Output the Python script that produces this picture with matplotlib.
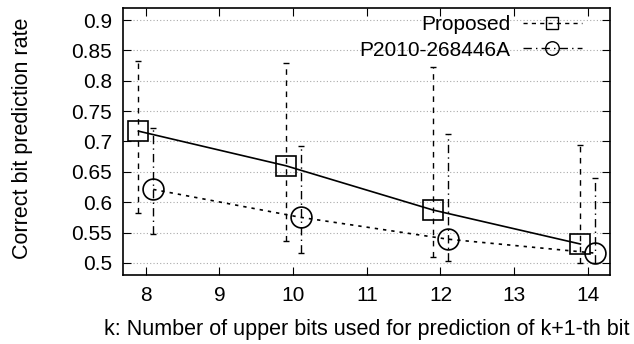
import matplotlib
matplotlib.use('Agg')
import matplotlib.pyplot as plt
from matplotlib.lines import Line2D

plt.rcParams['font.family'] = ['Liberation Sans', 'DejaVu Sans']

k = [8, 10, 12, 14]

# Proposed
prop_mean = [0.717, 0.660, 0.587, 0.531]
prop_low = [0.582, 0.536, 0.509, 0.500]
prop_high = [0.832, 0.829, 0.822, 0.694]

# P2010-268446A
prev_mean = [0.621, 0.575, 0.539, 0.516]
prev_low = [0.548, 0.516, 0.503, 0.500]
prev_high = [0.722, 0.693, 0.713, 0.640]

yticks = [0.5, 0.55, 0.6, 0.65, 0.7, 0.75, 0.8, 0.85, 0.9]
ytick_labels = ['0.5', '0.55', '0.6', '0.65', '0.7', '0.75', '0.8', '0.85', '0.9']

fig = plt.figure(figsize=(6.34, 3.44), dpi=100)
ax = fig.add_axes([0.194, 0.2006, 0.768, 0.7764])

xp = [x - 0.1 for x in k]
xq = [x + 0.1 for x in k]

# error bars
ep = ax.errorbar(xp, prop_mean,
                 yerr=[[m - l for m, l in zip(prop_mean, prop_low)],
                       [h - m for m, h in zip(prop_mean, prop_high)]],
                 fmt='none', ecolor='black', elinewidth=1.0, capsize=2.5)
ep[2][0].set_linestyle((0, (4, 4)))
eq = ax.errorbar(xq, prev_mean,
                 yerr=[[m - l for m, l in zip(prev_mean, prev_low)],
                       [h - m for m, h in zip(prev_mean, prev_high)]],
                 fmt='none', ecolor='black', elinewidth=1.0, capsize=2.5)
eq[2][0].set_linestyle((0, (6, 3, 1, 3)))

ax.plot(xp, prop_mean, color='black', lw=1.2, ls='-')
ax.plot(xp, prop_mean, ls='none', marker='s', ms=14, mfc='none', mec='black', mew=1.2)
ax.plot(xq, prev_mean, color='black', lw=1.2, ls=(0, (2, 3)))
ax.plot(xq, prev_mean, ls='none', marker='o', ms=15, mfc='none', mec='black', mew=1.2)

ax.set_xlim(7.69, 14.3)
ax.set_ylim(0.48, 0.92)
ax.set_xticks(range(8, 15))
ax.set_yticks(yticks)
ax.set_yticklabels(ytick_labels)
ax.tick_params(direction='in', top=True, right=True, labelsize=15, length=6, pad=8)
ax.yaxis.grid(True, color='#aaaaaa', ls=(0, (1, 2)), lw=0.8)
for s in ax.spines.values():
    s.set_linewidth(1.2)

ax.set_ylabel('Correct bit prediction rate', fontsize=15.5)
ax.yaxis.set_label_coords(-0.185, 0.51)
ax.set_xlabel('k: Number of upper bits used for prediction of k+1-th bit', fontsize=15.5, labelpad=10)

h1 = Line2D([], [], color='black', ls=(0, (3, 3)), marker='s', ms=14, mfc='none', lw=1.0)
h2 = Line2D([], [], color='black', ls=(0, (6, 3, 1, 3)), marker='o', ms=15, mfc='none', lw=1.0)
ax.legend([h1, h2], ['Proposed', 'P2010-268446A'], loc='upper right', frameon=False,
          bbox_to_anchor=(0.9425, 0.972), markerfirst=False, fontsize=15,
          handlelength=2.85, labelspacing=0.3, markerscale=0.65,
          borderaxespad=0, borderpad=0, handletextpad=0.6)

fig.savefig('out.png', dpi=100)
